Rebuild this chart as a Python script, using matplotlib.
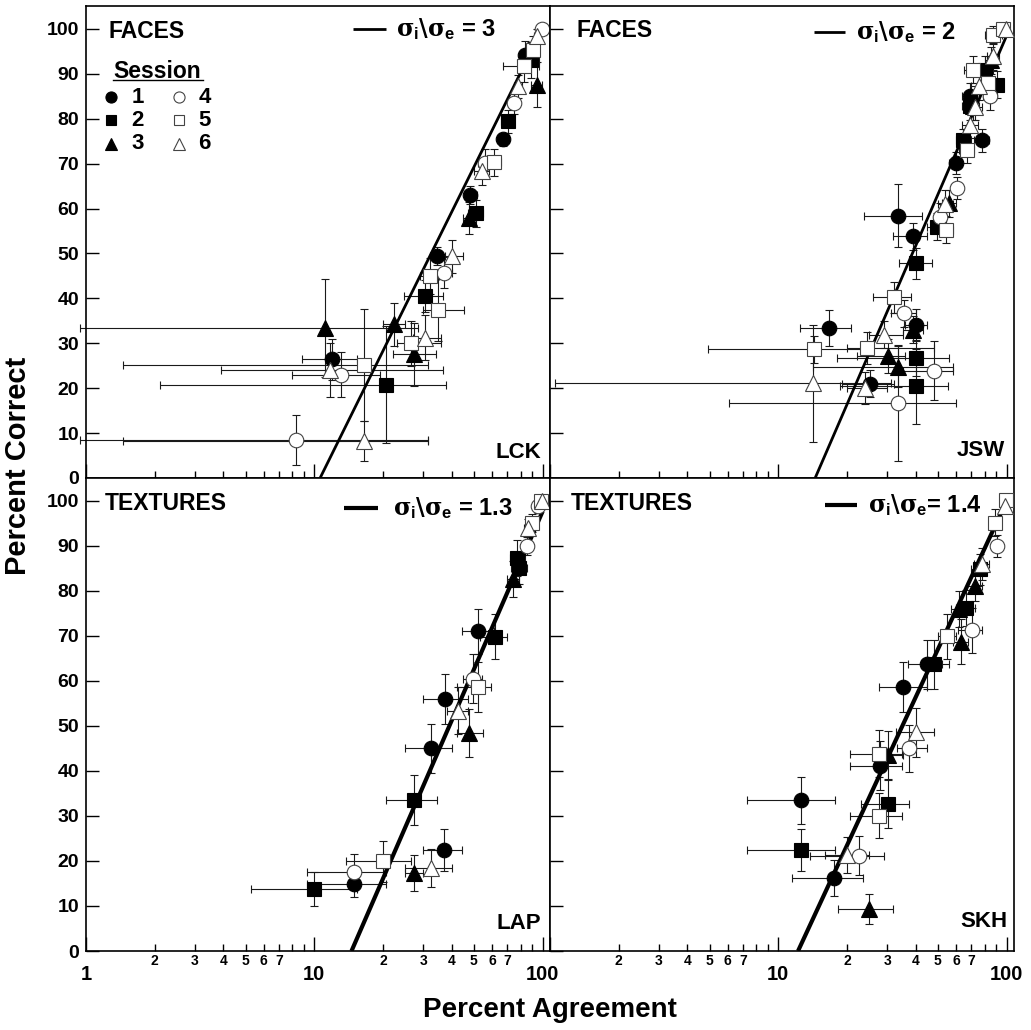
import numpy as np
import matplotlib
matplotlib.use("Agg")
import matplotlib.pyplot as plt
from matplotlib.ticker import FixedLocator, FixedFormatter

plt.rcParams['font.family'] = ['Liberation Sans', 'DejaVu Sans']
plt.rcParams['font.weight'] = 'bold'
plt.rcParams['mathtext.fontset'] = 'custom'
plt.rcParams['mathtext.rm'] = 'DejaVu Serif'
plt.rcParams['mathtext.it'] = 'DejaVu Serif'
plt.rcParams['mathtext.bf'] = 'Liberation Sans:bold'

# ---------------- data ----------------
# LCK (faces)
lck_sess = [1, 1, 1, 1, 1, 2, 2, 2, 2, 2, 3, 3, 3, 3, 3, 4, 4, 4, 4, 4, 4,
            5, 5, 5, 5, 5, 5, 5, 6, 6, 6, 6, 6, 6, 6]
lck_x = [67.3, 48.3, 34.5, 11.9, 84.0, 70.5, 51.0, 30.5, 20.5, 89.0, 94.8, 47.6, 27.3, 22.3, 11.1,
         99.3, 75.0, 55.7, 37.1, 13.1, 8.32,
         90.7, 83.0, 61.5, 32.0, 34.8, 26.6, 16.5, 77.7, 54.2, 39.9, 30.5, 11.7, 16.5, 94.8]
lck_y = [75.4, 63.1, 49.4, 26.4, 94.3, 79.4, 59.0, 40.5, 20.8, 93.0, 87.6, 57.9, 27.5, 34.2, 33.4,
         100.0, 83.5, 70.2, 45.7, 23.0, 8.5,
         95.4, 91.7, 70.3, 44.9, 37.5, 30.0, 25.2, 87.2, 68.3, 49.4, 31.2, 24.1, 8.2, 98.4]
lck_xlo = [64, 45.5, 32, 8.8, 80, 66, 47, 24.8, 2.1, 82, 89, 45, 22, 20, 0.94,
           97, 71, 52, 34, 8.0, 0.94,
           86, 67, 57, 29, 30, 23, 1.45, 75, 50, 36, 27, 3.9, 1.45, 92]
lck_xhi = [71, 51.5, 37.5, 15.4, 88, 75, 55, 36.5, 37.8, 96, 99, 51, 34, 25, 28.5,
           101, 79, 60, 40, 19.4, 31.6,
           95, 96, 66, 35, 45.3, 36, 31.6, 81, 58, 45, 36, 36.5, 31.6, 98]
lck_yerr = [1.5, 2.0, 2.0, 4.6, 3.0, 2.5, 3.0, 3.5, 13.0, 4.0, 5.0, 3.5, 7.0, 4.7, 11.0,
            1.0, 2.5, 3.0, 3.5, 5.0, 5.5,
            3.0, 3.5, 3.0, 4.0, 7.0, 5.0, 12.5, 2.5, 3.0, 3.7, 5.0, 6.0, 4.5, 1.5]

# JSW (faces)
jsw_sess = [1, 1, 1, 1, 1, 1, 1, 1, 2, 2, 2, 2, 2, 2, 2, 2, 3, 3, 3, 3, 3, 3, 3,
            4, 4, 4, 4, 4, 4, 5, 5, 5, 5, 5, 5, 5, 5, 5, 6, 6, 6, 6, 6, 6, 6, 6, 6]
jsw_x = [33.5, 38.7, 40.1, 16.7, 25.2, 60.0, 77.8, 69.0,
         40.1, 40.1, 40.1, 80.4, 90.4, 69.0, 64.2, 49.3,
         30.1, 33.5, 39.0, 56.1, 71.4, 65.7, 85.0,
         33.5, 48.1, 35.5, 60.4, 84.5, 51.0,
         14.3, 24.4, 32.2, 54.2, 66.8, 71.5, 83.2, 87.5, 96.6,
         14.2, 24.0, 29.0, 53.7, 69.0, 72.7, 75.9, 87.5, 99.3]
jsw_y = [58.4, 53.8, 34.1, 33.4, 21.0, 70.1, 75.2, 85.0,
         47.8, 26.7, 20.4, 90.9, 87.6, 82.8, 75.3, 56.0,
         27.2, 24.8, 33.0, 61.2, 82.8, 75.3, 93.0,
         16.7, 23.9, 36.7, 64.6, 85.0, 58.2,
         28.7, 28.9, 40.2, 55.3, 73.1, 90.9, 88.0, 98.7, 100.0,
         21.1, 20.0, 31.9, 61.1, 78.7, 82.7, 87.2, 93.9, 100.0]
jsw_xlo = [23.7, 31.9, 36, 12.4, 19, 56, 72, 64,
           33.9, 18, 18.6, 74, 84, 64, 60, 45,
           22, 14.2, 35, 52, 66, 61, 80,
           6.1, 35.3, 31, 57, 79, 48,
           4.9, 20, 26, 50, 62, 65, 78, 80, 92,
           1.05, 20, 25, 50, 64, 68, 70, 82, 96]
jsw_xhi = [42.4, 44.6, 45, 20.9, 32, 64, 84, 74,
           46.9, 56, 55.6, 87, 96, 74, 69, 53,
           36, 58.4, 43, 60, 76, 70, 90,
           60, 58.4, 40, 64, 90, 54,
           24.4, 48, 38, 58, 72, 80, 90, 95, 100,
           31.3, 30, 35, 58, 75, 78, 80, 93, 101]
jsw_yerr = [7.0, 3.0, 3.5, 4.0, 3.0, 2.5, 2.5, 3.0,
            3.5, 4.0, 8.4, 3.0, 3.0, 3.0, 2.5, 3.0,
            3.8, 4.5, 3.0, 3.0, 3.0, 2.5, 3.0,
            13.0, 6.5, 3.0, 2.5, 3.0, 3.0,
            3.0, 3.5, 3.5, 3.0, 3.0, 3.0, 3.0, 2.0, 1.0,
            13.0, 3.6, 3.0, 3.0, 3.0, 3.0, 3.0, 3.0, 1.0]

# LAP (textures)
lap_sess = [1, 1, 1, 1, 1, 2, 2, 2, 2, 2, 3, 3, 3, 4, 4, 4, 4, 5, 5, 5, 5, 6, 6, 6, 6]
lap_x = [52.3, 37.5, 32.5, 37.1, 14.9, 77.5, 78.5, 62.1, 27.3, 9.96, 74.1, 47.8, 27.3,
         85.1, 49.5, 14.9, 95.2, 89.8, 52.3, 20.0, 98.2, 99.0, 86.6, 42.4, 32.5]
lap_y = [71.1, 56.0, 45.0, 22.4, 14.9, 87.3, 85.0, 69.8, 33.5, 13.7, 82.7, 48.5, 17.3,
         89.9, 60.5, 17.5, 98.8, 95.2, 58.7, 19.9, 100.0, 100.0, 94.0, 53.4, 18.4]
lap_xlo = [44.5, 29.9, 24.9, 29.9, 9.3, 72, 73, 53, 20.5, 5.3, 70, 42, 25,
           81, 45, 9.3, 92, 86, 42, 13.7, 96, 97, 83, 38, 24.9]
lap_xhi = [61.5, 46.9, 39.9, 44.5, 20.5, 84, 85, 69.8, 34.5, 15.4, 79, 55, 30,
           89, 54, 20.5, 98, 94, 59.7, 26.4, 100, 101, 90, 47, 39.9]
lap_yerr = [5.0, 5.6, 5.4, 4.6, 3.0, 4.0, 3.5, 5.0, 5.5, 3.8, 4.0, 5.3, 4.0,
            2.0, 5.5, 4.0, 1.5, 2.0, 5.5, 4.5, 1.0, 1.0, 2.0, 5.2, 4.2]

# SKH (textures)
skh_sess = [1, 1, 1, 1, 1, 2, 2, 2, 2, 2, 3, 3, 3, 3, 3, 4, 4, 4, 4, 5, 5, 5, 5, 5, 6, 6, 6, 6]
skh_x = [12.6, 17.5, 27.9, 35.1, 44.6, 12.6, 30.1, 48.2, 66.3, 76.4, 25.0, 30.3, 62.9, 72.6, 61.7,
         22.6, 37.5, 70.3, 90.4, 27.7, 27.7, 55.0, 88.9, 99.3, 20.0, 40.1, 77.8, 98.3]
skh_y = [33.5, 16.2, 41.2, 58.7, 63.7, 22.5, 32.7, 63.7, 76.3, 84.8, 9.3, 43.6, 68.7, 81.2, 76.1,
         21.2, 45.0, 71.3, 90.0, 43.8, 30.0, 69.9, 95.2, 100.2, 21.4, 48.6, 86.0, 98.9]
skh_xlo = [7.3, 11.5, 20.6, 27.5, 37, 7.3, 23, 42, 60, 70, 18.2, 26, 58, 67, 57,
           13.7, 33, 61.5, 85, 20.6, 20.6, 50, 84, 96, 16, 32.6, 72, 95]
skh_xhi = [17.8, 23.6, 34.7, 44.6, 52, 17.8, 37.5, 55.8, 73, 82, 31.7, 35, 68, 78, 66,
           29.1, 45, 78, 95, 34.7, 34.7, 60, 94, 100, 25, 47.9, 84, 100]
skh_yerr = [5.2, 4.0, 5.5, 5.5, 5.4, 4.7, 5.4, 5.4, 4.0, 3.5, 3.4, 5.3, 5.0, 3.5, 4.0,
            4.3, 5.2, 5.0, 2.5, 5.2, 5.0, 5.0, 3.0, 1.0, 4.0, 5.4, 3.5, 1.5]

# fitted lines (x at y=0, x at top end)
lck_fit_x = [10.6, 99.6]
lck_fit_y = [0.0, 100.0]
jsw_fit_x = [14.5, 100.0]
jsw_fit_y = [0.0, 98.5]
lap_fit_x = [14.55, 100.0]
lap_fit_y = [0.0, 97.7]
skh_fit_x = [12.2, 100.0]
skh_fit_y = [0.0, 100.0]

panel_titles = ["FACES", "FACES", "TEXTURES", "TEXTURES"]
panel_ids = ["LCK", "JSW", "LAP", "SKH"]
ratio_labels = [r"$\sigma_{\mathbf{i}}\backslash\sigma_{\mathbf{e}}$ = 3",
                r"$\sigma_{\mathbf{i}}\backslash\sigma_{\mathbf{e}}$ = 2",
                r"$\sigma_{\mathbf{i}}\backslash\sigma_{\mathbf{e}}$ = 1.3",
                r"$\sigma_{\mathbf{i}}\backslash\sigma_{\mathbf{e}}$= 1.4"]
sessions = [1, 2, 3, 4, 5, 6]
session_labels = ["1", "2", "3", "4", "5", "6"]
y_ticks = [0, 10, 20, 30, 40, 50, 60, 70, 80, 90, 100]
y_ticklabels = ["0", "10", "20", "30", "40", "50", "60", "70", "80", "90", "100"]
x_major = [1, 10, 100]
x_major_labels_left = ["1", "10", "100"]
x_major_labels_right = ["", "10", "100"]
x_minor = [2, 3, 4, 5, 6, 7, 8, 9, 20, 30, 40, 50, 60, 70, 80, 90]
x_minor_labels = ["2", "3", "4", "5", "6", "7", "", "", "2", "3", "4", "5", "6", "7", "", ""]

# ---------------- style ----------------
marker_shape = {1: 'o', 2: 's', 3: '^', 4: 'o', 5: 's', 6: '^'}
marker_filled = {1: True, 2: True, 3: True, 4: False, 5: False, 6: False}
marker_size = {'o': 10.5, 's': 10.0, '^': 11.0}

W, H = 1031, 1030
fig = plt.figure(figsize=(W / 100, H / 100), dpi=100)

def axbox(l, t, r, b):
    return [l / W, 1 - b / H, (r - l) / W, (b - t) / H]

ax_tl = fig.add_axes(axbox(86, 6, 550, 478))
ax_tr = fig.add_axes(axbox(550, 6, 1014, 478))
ax_bl = fig.add_axes(axbox(86, 478, 550, 951))
ax_br = fig.add_axes(axbox(550, 478, 1014, 951))
axes = [ax_tl, ax_tr, ax_bl, ax_br]

panels = [
    (lck_x, lck_y, lck_xlo, lck_xhi, lck_yerr, lck_sess, lck_fit_x, lck_fit_y),
    (jsw_x, jsw_y, jsw_xlo, jsw_xhi, jsw_yerr, jsw_sess, jsw_fit_x, jsw_fit_y),
    (lap_x, lap_y, lap_xlo, lap_xhi, lap_yerr, lap_sess, lap_fit_x, lap_fit_y),
    (skh_x, skh_y, skh_xlo, skh_xhi, skh_yerr, skh_sess, skh_fit_x, skh_fit_y),
]

fit_lw = [2.0, 2.0, 3.0, 3.0]
title_pos = [(0.048, 0.946), (0.058, 0.949), (0.040, 0.947), (0.045, 0.946)]
id_pos = [(0.981, 0.055), (0.981, 0.059), (0.981, 0.059), (0.987, 0.062)]
ratio_line = [((0.575, 0.647), 0.951), ((0.569, 0.636), 0.945),
              ((0.556, 0.629), 0.937), ((0.593, 0.662), 0.943)]
ratio_text_x = [0.668, 0.660, 0.662, 0.686]

for i, (ax, pdata) in enumerate(zip(axes, panels)):
    x, y, xlo, xhi, ye, ss, fx, fy = [np.asarray(a, dtype=float) for a in pdata]
    ax.set_xscale('log')
    ax.set_xlim(1, 107.7)
    ax.set_ylim(0, 105.1)
    # fitted line
    ax.plot(fx, fy, color='black', lw=fit_lw[i], zorder=2.5, solid_capstyle='butt')
    # error bars
    eb = ax.errorbar(x, y, xerr=[x - xlo, xhi - x], yerr=ye, fmt='none',
                     ecolor='#1a1a1a', elinewidth=0.8, capsize=3, capthick=0.8, zorder=2)
    for child in eb.get_children():
        child.set_clip_on(False)
    # markers
    for s in sessions:
        m = ss == s
        shp = marker_shape[s]
        if marker_filled[s]:
            ax.plot(x[m], y[m], ls='none', marker=shp, ms=marker_size[shp],
                    mfc='black', mec='black', mew=0.8, zorder=3, clip_on=False)
        else:
            ax.plot(x[m], y[m], ls='none', marker=shp, ms=marker_size[shp],
                    mfc='white', mec='#444444', mew=0.8, zorder=3.5, clip_on=False)

    # ticks
    ax.xaxis.set_major_locator(FixedLocator(x_major))
    ax.xaxis.set_minor_locator(FixedLocator(x_minor))
    ax.set_yticks(y_ticks)
    ax.set_yticklabels(y_ticklabels)
    if i in (2, 3):
        ax.xaxis.set_major_formatter(FixedFormatter(x_major_labels_left if i == 2 else x_major_labels_right))
        ax.xaxis.set_minor_formatter(FixedFormatter(x_minor_labels))
    ax.tick_params(axis='x', which='major', direction='in', length=10, width=1.0,
                   pad=10, labelsize=14.5, labelbottom=(i in (2, 3)))
    ax.tick_params(axis='x', which='minor', direction='in', length=5, width=1.0,
                   pad=2, labelsize=10, labelbottom=(i in (2, 3)))
    ax.tick_params(axis='y', which='major', direction='in', length=9, width=1.0,
                   pad=5, labelsize=14, labelleft=(i in (0, 2)))
    for sp in ax.spines.values():
        sp.set_linewidth(1.2)

    # texts
    ax.text(title_pos[i][0], title_pos[i][1], panel_titles[i], transform=ax.transAxes,
            ha='left', va='center', fontsize=16.5, fontweight='bold')
    ax.text(id_pos[i][0], id_pos[i][1], panel_ids[i], transform=ax.transAxes,
            ha='right', va='center', fontsize=16, fontweight='bold')
    (lx0, lx1), ly = ratio_line[i]
    ax.plot([lx0, lx1], [ly, ly], transform=ax.transAxes, color='black',
            lw=fit_lw[i], solid_capstyle='butt', clip_on=False)
    ax.text(ratio_text_x[i], ly, ratio_labels[i], transform=ax.transAxes,
            ha='left', va='center', fontsize=17, fontweight='bold')

# session legend in top-left panel
ax = ax_tl
ax.text(0.058, 0.862, "Session", transform=ax.transAxes, ha='left', va='center',
        fontsize=16.5, fontweight='bold')
ax.plot([0.058, 0.252], [0.843, 0.843], transform=ax.transAxes, color='black', lw=1.0)
leg_rows = [0.807, 0.758, 0.708]
leg_cols_marker = [0.054, 0.200]
leg_cols_num = [0.111, 0.256]
leg_ms = {'o': 8.0, 's': 7.5, '^': 8.5}
for k, s in enumerate(sessions):
    col = k // 3
    row = k % 3
    shp = marker_shape[s]
    if marker_filled[s]:
        ax.plot([leg_cols_marker[col]], [leg_rows[row]], transform=ax.transAxes, ls='none',
                marker=shp, ms=leg_ms[shp], mfc='black', mec='black', mew=0.8)
    else:
        ax.plot([leg_cols_marker[col]], [leg_rows[row]], transform=ax.transAxes, ls='none',
                marker=shp, ms=leg_ms[shp], mfc='white', mec='#444444', mew=0.8)
    ax.text(leg_cols_num[col], leg_rows[row], session_labels[k], transform=ax.transAxes,
            ha='center', va='center', fontsize=16, fontweight='bold')

fig.text(0.0175, 0.5476, "Percent Correct", rotation=90, ha='center', va='center',
         fontsize=21, fontweight='bold')
fig.text(0.5335, 0.0194, "Percent Agreement", ha='center', va='center',
         fontsize=20, fontweight='bold')

fig.savefig("out.png", dpi=100)
